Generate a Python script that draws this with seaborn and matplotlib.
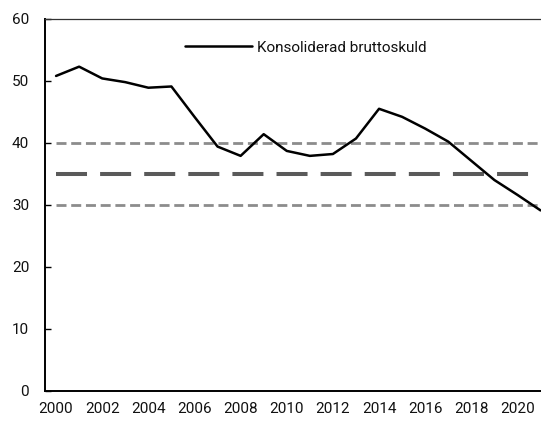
import matplotlib
matplotlib.use("Agg")
import matplotlib.pyplot as plt
import seaborn as sns
import pandas as pd
import numpy as np

years = list(range(2000, 2022))
debt = [50.8, 52.3, 50.4, 49.8, 48.9, 49.1, 44.2, 39.4, 37.9, 41.4, 38.7,
        37.9, 38.2, 40.7, 45.5, 44.2, 42.3, 40.2, 37.1, 34.0, 31.6, 29.1]
series_label = "Konsoliderad bruttoskuld"

anchor = 35
band_upper = 40
band_lower = 30

tick_labels = [str(y) for y in range(2000, 2021, 2)]

df = pd.DataFrame({"year": years, "debt": debt})

sns.set_style("white")
plt.rcParams["font.family"] = ["Roboto", "DejaVu Sans"]

fig = plt.figure(figsize=(5.41, 4.21), dpi=100)
ax = fig.add_axes([0.0823, 0.072, 0.9177, 0.883])

# reference band and target level
ax.hlines([band_upper, band_lower], years[0], years[-1], color="#8c8c8c",
          lw=2.0, linestyles=[(0, (3.6, 1.7))], zorder=2)
ax.hlines(anchor, years[0], years[-1], color="#5a5a5a", lw=2.9,
          linestyles=[(0, (7.7, 3.25))], zorder=2)

sns.lineplot(data=df, x="year", y="debt", color="black", lw=1.8,
             label=series_label, ax=ax, zorder=3)

ax.set_xlim(1999.5, 2021.02)
ax.set_ylim(0, 60)
ax.set_yticks(range(0, 61, 10))
ax.set_xticks([y - 0.5 for y in years[:-1]])
ax.set_xticklabels([])
ax.set_xticks(list(range(2000, 2021, 2)), minor=True)
ax.set_xticklabels(tick_labels, minor=True)
ax.tick_params(axis="x", which="major", direction="out", length=5, width=1,
               color="black")
ax.tick_params(axis="x", which="minor", length=0, pad=8, labelsize=11,
               labelcolor="#111111")
ax.tick_params(axis="y", direction="in", length=4.5, width=1, color="black",
               pad=11, labelsize=11, labelcolor="#111111", left=True)
ax.set_xlabel("")
ax.set_ylabel("")

for side in ["left", "bottom"]:
    ax.spines[side].set_color("black")
    ax.spines[side].set_linewidth(1.4)
ax.spines["top"].set_color("#333333")
ax.spines["top"].set_linewidth(0.9)
ax.spines["right"].set_visible(False)

ax.legend(loc="center left", bbox_to_anchor=(185 / 541, 1 - 47.7 / 421),
          bbox_transform=fig.transFigure, frameon=False, borderpad=0,
          borderaxespad=0, handlelength=4.4, handletextpad=0.3, fontsize=11,
          labelcolor="#111111")

fig.savefig("out.png", dpi=100)
